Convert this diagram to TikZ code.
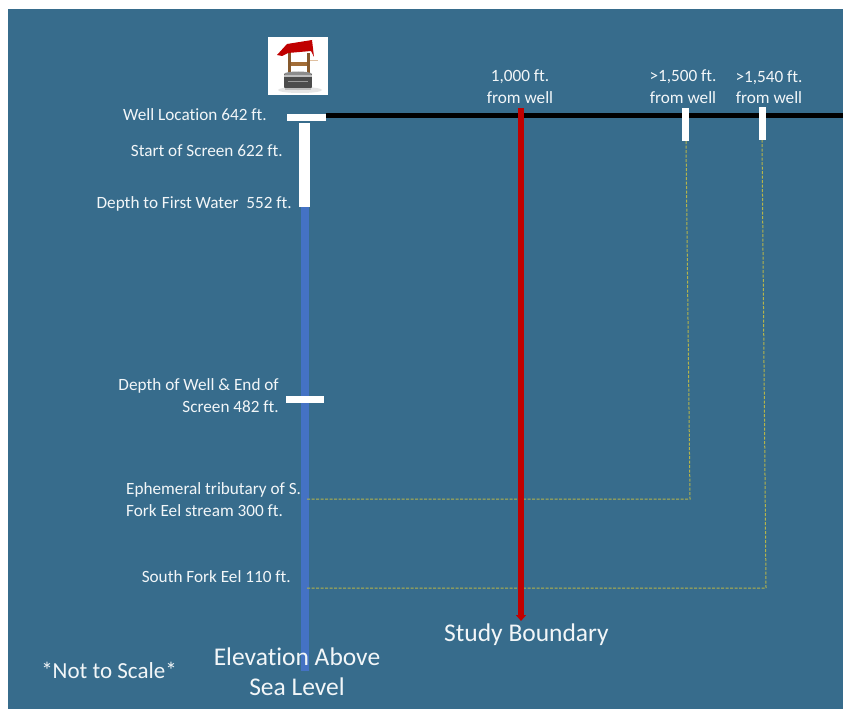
\documentclass[tikz,border=0pt]{standalone}
\usepackage{fontspec}
\setmainfont{Carlito}[Ligatures=NoCommon]
\usetikzlibrary{arrows.meta}
\definecolor{panel}{HTML}{376C8C}
\definecolor{wellblue}{HTML}{4472C4}
\definecolor{bndred}{HTML}{C00000}
\definecolor{dashy}{HTML}{B5B44A}
\definecolor{txt}{HTML}{F2F6F8}
\tikzset{
  lbl/.style={text=txt,font=\fontsize{17.2}{21.5}\selectfont,inner sep=0pt,align=center},
  biglbl/.style={text=txt,font=\fontsize{25.5}{30}\selectfont,inner sep=0pt,align=center},
  whitebar/.style={fill=white,draw=none},
  wellpipe/.style={fill=wellblue,draw=none},
  dashline/.style={draw=dashy,line width=1pt,dash pattern=on 3pt off 1.5pt},
}
\begin{document}
\begin{tikzpicture}[x=1pt,y=-1pt]
\useasboundingbox (0,0) rectangle (843,709);
\fill[white] (0,0) rectangle (843,709);
\fill[panel] (8,9) rectangle (843,709);
% coordinates
\coordinate (groundL) at (326,115.5);
\coordinate (groundR) at (843,115.5);
\coordinate (redtop) at (521,108);
\coordinate (redbot) at (521,621);
\coordinate (tribL) at (307,499);
\coordinate (tribC) at (690,499);
\coordinate (tribT) at (686,141);
\coordinate (sfL) at (307,588);
\coordinate (sfC) at (766,588);
\coordinate (sfT) at (762,140);
% pipe
\fill[wellpipe] (301,207) rectangle (309,671);
% ground line
\draw[line width=4.5pt,black] (groundL) -- (groundR);
% dashed
\draw[dashline] (tribL) -- (tribC) -- (tribT);
\draw[dashline] (sfL) -- (sfC) -- (sfT);
% red arrow
\draw[bndred,line width=5.5pt,-{Triangle[length=6pt,width=10pt]}] (redtop) -- (redbot);
% white bars
\fill[whitebar] (287,113.5) rectangle (325.5,120.5);
\fill[whitebar] (299,123) rectangle (310,207);
\fill[whitebar] (286,396) rectangle (324,403);
\fill[whitebar] (682,108) rectangle (689,141);
\fill[whitebar] (759,107) rectangle (766,140);
% well icon
\fill[white] (268,37) rectangle (328,95);
\fill[black!10] (300,90) ellipse (22 and 3);
\fill[brown!70!black] (288,53) rectangle (291,74);
\fill[brown!70!black] (307,53) rectangle (310,74);
\fill[brown!85!black] (291,62) rectangle (307,66);
\draw[brown!50!white,line width=0.9pt] (310,60) -- (318,60);
\fill[bndred] (277,55) -- (287,44) -- (312,40) -- (314,57) -- (311,51) -- (288,53) -- (282,56) -- cycle;
\fill[black!70] (284,74) rectangle (312,87);
\fill[black!45] (298,74) ellipse (14 and 2.5);
\fill[black!70] (298,87) ellipse (14 and 3);
\draw[black!25,line width=1.4pt] (284,76) -- (312,76);
\draw[black!25,line width=1.6pt] (285,89) -- (311,89);
\draw[black!40,line width=0.7pt] (288,81) -- (308,81);
% labels
\node[lbl,anchor=east] (wl) at (267,115) {Well Location 642 ft.};
\node[lbl,anchor=east] (ss) at (283,151) {Start of Screen 622 ft.};
\node[lbl,anchor=east] (df) at (292,203.5) {Depth to First Water~~552 ft.};
\node[lbl,align=right,anchor=east] (dw) at (279,395.5) {Depth of Well \& End of\\Screen 482 ft.};
\node[lbl,align=left,anchor=west] (et) at (126,499.5) {Ephemeral tributary of S.\\Fork Eel stream 300 ft.};
\node[lbl,anchor=east] (sf) at (291,576.5) {South Fork Eel 110 ft.};
\node[lbl] (d1) at (520,86.5) {1,000 ft.\\from well};
\node[lbl] (d2) at (683,86.5) {>1,500 ft.\\from well};
\node[lbl] (d3) at (769,87) {>1,540 ft.\\from well};
\node[biglbl] (sb) at (526.5,635) {Study Boundary};
\node[biglbl] (ev) at (297,671.5) {Elevation Above\\Sea Level};
\node[text=txt,font=\fontsize{23}{28}\selectfont,inner sep=0pt] (ns) at (109,670) {*Not to Scale*};
\end{tikzpicture}
\end{document}
